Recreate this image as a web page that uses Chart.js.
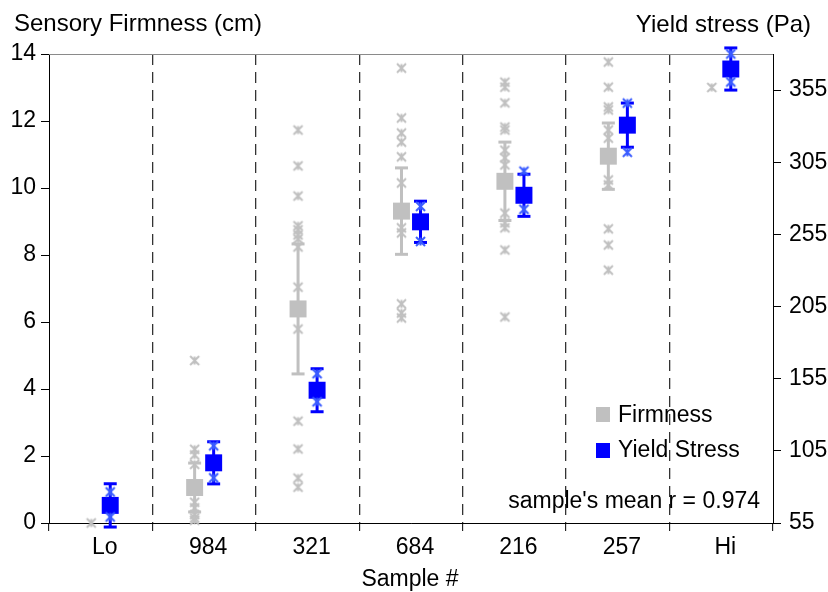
<!DOCTYPE html>
<html><head><meta charset="utf-8">
<script src="https://cdn.jsdelivr.net/npm/chart.js@4.4.1/dist/chart.umd.min.js"></script>
<style>html,body{margin:0;padding:0;background:#fff;} canvas{display:block;}</style>
</head><body>
<canvas id="c" width="828" height="592"></canvas>
<script>
// ---- data ----
const categories = ['Lo', '984', '321', '684', '216', '257', 'Hi'];
// Sensory firmness (cm): panel means and SD (Lo / Hi are fixed references)
const firmMean = [null, 1.06, 6.39, 9.31, 10.20, 10.95, null];
const firmSD   = [null, 0.73, 1.94, 1.29, 1.17, 0.99, null];
// individual panellist scores (cm)
const firmLo  = [0];
const firm984 = [4.85, 2.2, 2.03, 1.75, 0.62, 0.45, 0.25, 0.15, 0.08];
const firm321 = [11.73, 10.66, 9.76, 8.87, 8.75, 8.6, 8.48, 8.24, 7.04, 5.79, 3.04, 2.21, 1.34, 1.07];
const firm684 = [13.58, 12.09, 11.64, 11.37, 10.93, 10.15, 8.81, 8.66, 6.54, 6.27, 6.12];
const firm216 = [13.16, 13.01, 12.54, 11.82, 11.73, 11.13, 10.9, 10.69, 9.25, 8.96, 8.81, 8.15, 6.15];
const firm257 = [13.76, 13.01, 12.42, 12.33, 11.73, 11.49, 10.24, 10.09, 8.78, 8.3, 7.55];
const firmHi  = [13.0];
const firmRaw = [firmLo, firm984, firm321, firm684, firm216, firm257, firmHi];
// Yield stress (Pa): means and SD
const yieldMean = [67.2, 96.7, 147.0, 263.7, 282.1, 330.7, 369.6];
const yieldSD   = [15.0, 14.6, 14.9, 14.3, 14.6, 15.3, 14.6];
// individual replicate measurements (Pa)
const yieldLo  = [76.5, 59.2];
const yield984 = [108.5, 86.3];
const yield321 = [158.5, 139.0];
const yield684 = [274.4, 250.1];
const yield216 = [298.8, 272.4];
const yield257 = [346.0, 311.9];
const yieldHi  = [380.0, 360.6];
const yieldRaw = [yieldLo, yield984, yield321, yield684, yield216, yield257, yieldHi];
// axis ticks
const leftTicks  = [0, 2, 4, 6, 8, 10, 12, 14];
const rightTicks = [55, 105, 155, 205, 255, 305, 355];

// ---- styling ----
const GRAY = '#c0c0c0';
const BLUE = '#0000ff';
const LBLUE = '#3a5cff';
const OFF = 0.092;
const FONT = '"Liberation Sans", Arial, Helvetica, sans-serif';

function makeStar(color) {
  const c = document.createElement('canvas');
  c.width = 13; c.height = 13;
  const g = c.getContext('2d');
  g.strokeStyle = color; g.lineWidth = 2; g.lineCap = 'butt';
  g.beginPath();
  g.moveTo(2, 2); g.lineTo(11, 11);
  g.moveTo(11, 2); g.lineTo(2, 11);
  g.moveTo(6.5, 2.5); g.lineTo(6.5, 10.5);
  g.stroke();
  return c;
}
const starGray = makeStar(GRAY);
const starBlue = makeStar(LBLUE);

function errData(means, sds, off) {
  const out = [];
  means.forEach((m, i) => {
    if (m === null) return;
    out.push({x: i + off, y: m - sds[i]}, {x: i + off, y: m + sds[i]}, {x: i + off, y: null});
  });
  return out;
}
function meanData(means, off) {
  const out = [];
  means.forEach((m, i) => { if (m !== null) out.push({x: i + off, y: m}); });
  return out;
}
function rawData(raw, off) {
  return raw.flatMap((arr, i) => arr.map(v => ({x: i + off, y: v})));
}

const textPlugin = {
  id: 'texts',
  beforeDatasetsDraw(chart) {
    const {ctx, chartArea: a} = chart;
    ctx.save();
    ctx.strokeStyle = '#8a8a8a'; ctx.lineWidth = 1;
    ctx.beginPath(); ctx.moveTo(a.left, a.top + 0.5); ctx.lineTo(a.right, a.top + 0.5); ctx.stroke();
    ctx.restore();
  },
  afterDraw(chart) {
    const {ctx} = chart;
    ctx.save();
    ctx.fillStyle = '#000';
    ctx.textBaseline = 'alphabetic';
    ctx.font = '24px ' + FONT;
    ctx.textAlign = 'left';
    ctx.fillText('Sensory Firmness (cm)', 14, 31);
    ctx.textAlign = 'right';
    ctx.fillText('Yield stress (Pa)', 811, 32);
    ctx.font = '23px ' + FONT;
    ctx.textAlign = 'center';
    ctx.fillText('Sample #', 410, 586);
    // legend
    ctx.fillStyle = GRAY; ctx.fillRect(596, 407, 14, 15);
    ctx.fillStyle = BLUE; ctx.fillRect(596, 443, 14, 15);
    ctx.fillStyle = '#000';
    ctx.textAlign = 'left';
    ctx.fillText('Firmness', 618, 422);
    ctx.fillText('Yield Stress', 618, 457);
    ctx.textAlign = 'right';
    ctx.fillText("sample's mean r = 0.974", 760, 508);
    ctx.restore();
  }
};

Chart.defaults.font.family = FONT;
Chart.defaults.color = '#000';

new Chart(document.getElementById('c'), {
  type: 'scatter',
  data: {
    datasets: [
      { label: 'Yield raw', data: rawData(yieldRaw, OFF), yAxisID: 'y2', pointStyle: starBlue, order: 0, clip: false },
      { label: 'Yield Stress', data: meanData(yieldMean, OFF), yAxisID: 'y2', pointStyle: 'rect', pointRadius: 12,
        backgroundColor: BLUE, borderWidth: 0, pointBorderWidth: 0, order: 1, clip: false },
      { label: 'Yield err', data: errData(yieldMean, yieldSD, OFF), yAxisID: 'y2', showLine: true, spanGaps: false,
        borderColor: BLUE, borderWidth: 3, pointStyle: 'line', pointRadius: 6.5, pointBorderWidth: 3,
        pointBorderColor: BLUE, order: 2, clip: false },
      { label: 'Firmness', data: meanData(firmMean, -OFF), yAxisID: 'y', pointStyle: 'rect', pointRadius: 12,
        backgroundColor: GRAY, borderWidth: 0, pointBorderWidth: 0, order: 3, clip: false },
      { label: 'Firm err', data: errData(firmMean, firmSD, -OFF), yAxisID: 'y', showLine: true, spanGaps: false,
        borderColor: GRAY, borderWidth: 3, pointStyle: 'line', pointRadius: 6.5, pointBorderWidth: 3,
        pointBorderColor: GRAY, order: 4, clip: false },
      { label: 'Firm raw', data: rawData(firmRaw, -OFF), yAxisID: 'y', pointStyle: starGray, order: 5, clip: false }
    ]
  },
  options: {
    responsive: false,
    animation: false,
    events: [],
    layout: { padding: { top: 54, left: 0, right: 0, bottom: 0 } },
    plugins: { legend: { display: false }, tooltip: { enabled: false } },
    scales: {
      x: {
        type: 'linear', min: -0.5, max: 6.5,
        afterBuildTicks(scale) {
          const t = [];
          for (let i = 0; i <= 14; i++) t.push({ value: -0.5 + i * 0.5 });
          scale.ticks = t;
        },
        afterFit(scale) { scale.height = 69; },
        ticks: {
          autoSkip: false, maxRotation: 0, minRotation: 0, padding: 3, labelOffset: 4,
          font: { size: 23 }, color: '#000',
          callback(v) { return Number.isInteger(v) ? categories[v] : ''; }
        },
        grid: {
          drawOnChartArea: true, lineWidth: 1.3, tickLength: 8, tickWidth: 1,
          color(ctx) {
            const v = ctx.tick ? ctx.tick.value : 0;
            return (!Number.isInteger(v) && v > -0.5 && v < 6.5) ? '#333' : 'rgba(0,0,0,0)';
          },
          tickColor(ctx) {
            const v = ctx.tick ? ctx.tick.value : 0;
            return Number.isInteger(v) ? 'rgba(0,0,0,0)' : '#000';
          }
        },
        border: { display: true, color: '#000', width: 1, dash: [11, 7] }
      },
      y: {
        position: 'left', min: 0, max: 14,
        afterBuildTicks(scale) { scale.ticks = leftTicks.map(v => ({ value: v })); },
        afterFit(scale) { scale.width = 49; },
        ticks: { font: { size: 23 }, color: '#000', padding: 5 },
        grid: { drawOnChartArea: false, tickLength: 8, tickColor: '#000' },
        border: { color: '#000', width: 1 }
      },
      y2: {
        position: 'right', min: 55, max: 380,
        afterBuildTicks(scale) { scale.ticks = rightTicks.map(v => ({ value: v })); },
        afterFit(scale) { scale.width = 55; },
        ticks: { font: { size: 23 }, color: '#000', padding: 8 },
        grid: { drawOnChartArea: false, tickLength: 8, tickColor: '#000' },
        border: { color: '#000', width: 1 }
      }
    }
  },
  plugins: [textPlugin]
});
</script>
</body></html>
